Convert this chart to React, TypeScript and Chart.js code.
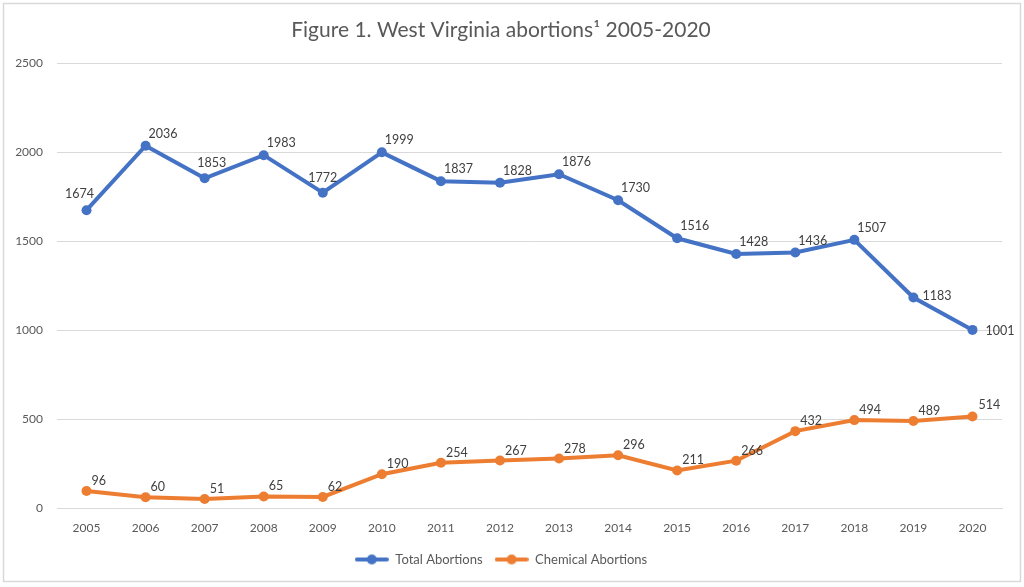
import React, { useEffect, useRef } from "react";
import { Chart, registerables } from "chart.js";

Chart.register(...registerables);

const years = ["2005","2006","2007","2008","2009","2010","2011","2012","2013","2014","2015","2016","2017","2018","2019","2020"];
const totalAbortions = [1674, 2036, 1853, 1983, 1772, 1999, 1837, 1828, 1876, 1730, 1516, 1428, 1436, 1507, 1183, 1001];
const chemicalAbortions = [96, 60, 51, 65, 62, 190, 254, 267, 278, 296, 211, 266, 432, 494, 489, 514];
const yTicks = [0, 500, 1000, 1500, 2000, 2500];

const BLUE = "#4472C4";
const ORANGE = "#ED7D31";
const FONT = "Lato, 'Open Sans', sans-serif";

function makeMarker(color: string) {
  const c = document.createElement("canvas");
  c.width = 34;
  c.height = 12;
  const ctx = c.getContext("2d")!;
  ctx.strokeStyle = color;
  ctx.lineWidth = 4;
  ctx.lineCap = "round";
  ctx.beginPath();
  ctx.moveTo(2, 6);
  ctx.lineTo(32, 6);
  ctx.stroke();
  ctx.fillStyle = color;
  ctx.beginPath();
  ctx.arc(17, 6, 5, 0, Math.PI * 2);
  ctx.fill();
  return c;
}

const borderPlugin = {
  id: "outerBorder",
  beforeDraw(chart: any) {
    const ctx = chart.ctx;
    ctx.save();
    ctx.fillStyle = "#ffffff";
    ctx.fillRect(0, 0, chart.width, chart.height);
    ctx.strokeStyle = "#d9d9d9";
    ctx.lineWidth = 1.5;
    ctx.strokeRect(3.5, 3.5, chart.width - 7, chart.height - 9);
    ctx.restore();
  },
};

const labelPlugin = {
  id: "pointLabels",
  afterDatasetsDraw(chart: any) {
    const ctx = chart.ctx;
    ctx.save();
    ctx.font = `12.5px ${FONT}`;
    ctx.fillStyle = "#404040";
    ctx.textBaseline = "middle";
    chart.data.datasets.forEach((ds: any, di: number) => {
      const meta = chart.getDatasetMeta(di);
      meta.data.forEach((pt: any, i: number) => {
        const v = ds.data[i];
        let x = pt.x + 3;
        let y = pt.y - 12;
        let align: CanvasTextAlign = "left";
        if (di === 0) {
          if (i === 0) { align = "center"; x = pt.x - 7; y = pt.y - 16; }
          else if (i === 2) { align = "center"; x = pt.x + 7; y = pt.y - 15; }
          else if (i === 4) { align = "center"; x = pt.x; y = pt.y - 15; }
          else if (i === 14) { x = pt.x + 9; y = pt.y - 2; }
          else if (i === 15) { x = pt.x + 13; y = pt.y + 1; }
        } else {
          if (i === 15) { x = pt.x + 6; y = pt.y - 12; }
          else { x = pt.x + 5; y = pt.y - 10; }
        }
        ctx.textAlign = align;
        ctx.fillText(String(v), x, y);
      });
    });
    ctx.restore();
  },
};

export default function App() {
  const ref = useRef<HTMLCanvasElement | null>(null);

  useEffect(() => {
    document.body.style.margin = "0";
    const blueMarker = makeMarker(BLUE);
    const orangeMarker = makeMarker(ORANGE);
    const chart = new Chart(ref.current!, {
      type: "line",
      data: {
        labels: years,
        datasets: [
          {
            label: "Total Abortions",
            data: totalAbortions,
            borderColor: BLUE,
            backgroundColor: BLUE,
            borderWidth: 4,
            pointRadius: 5,
            pointHoverRadius: 5,
            pointBackgroundColor: BLUE,
            pointBorderWidth: 0,
            tension: 0,
          },
          {
            label: "Chemical Abortions",
            data: chemicalAbortions,
            borderColor: ORANGE,
            backgroundColor: ORANGE,
            borderWidth: 4,
            pointRadius: 5,
            pointHoverRadius: 5,
            pointBackgroundColor: ORANGE,
            pointBorderWidth: 0,
            tension: 0,
          },
        ],
      },
      options: {
        animation: false,
        responsive: false,
        layout: { padding: { left: 0, right: 22, top: 0, bottom: 11 } },
        scales: {
          x: {
            offset: true,
            grid: { display: false, drawTicks: false },
            border: { display: true, color: "#d9d9d9", width: 1 },
            ticks: { color: "#595959", font: { family: FONT, size: 12 }, padding: 13 },
            afterFit(scale: any) { scale.height = 33; },
          },
          y: {
            min: 0,
            max: 2500,
            afterBuildTicks(scale: any) { scale.ticks = yTicks.map((v) => ({ value: v })); },
            grid: { color: "#d9d9d9", drawTicks: false, lineWidth: 1 },
            border: { display: false },
            ticks: {
              color: "#595959",
              font: { family: FONT, size: 12 },
              padding: 14,
              callback: (v: any) => String(v),
            },
            afterFit(scale: any) { scale.width = 57; },
          },
        },
        plugins: {
          title: {
            display: true,
            text: "Figure 1. West Virginia abortions\u00B9 2005-2020",
            color: "#595959",
            font: { family: FONT, size: 21, weight: "normal" as any },
            padding: { top: 18, bottom: 20 },
          },
          legend: {
            position: "bottom",
            labels: {
              usePointStyle: true,
              pointStyleWidth: 34,
              boxHeight: 12,
              color: "#595959",
              font: { family: FONT, size: 13 },
              padding: 12,
              generateLabels(chart: any) {
                return chart.data.datasets.map((ds: any, i: number) => ({
                  text: ds.label,
                  pointStyle: i === 0 ? blueMarker : orangeMarker,
                  fillStyle: ds.borderColor,
                  strokeStyle: ds.borderColor,
                  lineWidth: 0,
                  hidden: false,
                  datasetIndex: i,
                  fontColor: "#595959",
                }));
              },
            },
          },
          tooltip: { enabled: false },
        },
      },
      plugins: [borderPlugin, labelPlugin],
    });
    return () => chart.destroy();
  }, []);

  return (
    <div style={{ width: 1024, height: 587, position: "relative" }}>
      <canvas ref={ref} width={1024} height={587} style={{ display: "block" }} />
    </div>
  );
}
